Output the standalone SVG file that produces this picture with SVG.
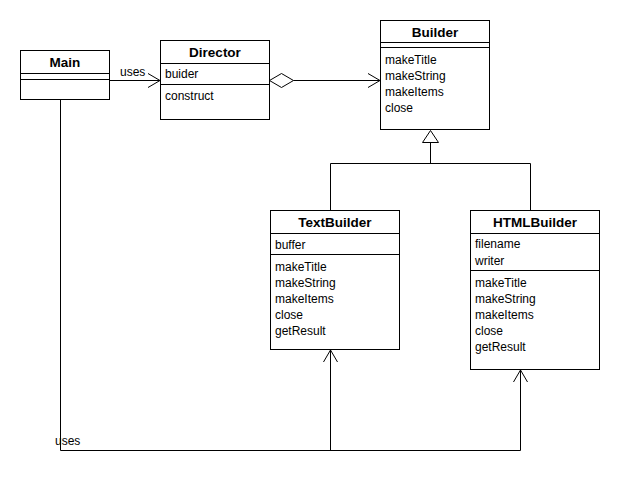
<svg xmlns="http://www.w3.org/2000/svg" width="620" height="490" viewBox="0 0 620 490">
<defs>
<style>
.box{fill:#fff;stroke:#000;stroke-width:1}
.ln{fill:none;stroke:#000;stroke-width:1}
.t{font-family:"Liberation Sans",Arial,sans-serif;font-size:12px;fill:#000}
.b{font-family:"Liberation Sans",Arial,sans-serif;font-size:13.5px;font-weight:bold;fill:#000;text-anchor:middle}
</style>
<marker id="open" markerWidth="16" markerHeight="16" refX="13" refY="8" orient="auto" markerUnits="userSpaceOnUse">
<path d="M1,1 L13,8 L1,15" fill="none" stroke="#000" stroke-width="1"/>
</marker>
</defs>
<rect width="620" height="490" fill="#fff"/>
<g id="connectors">
<line class="ln" x1="109.5" y1="80.5" x2="160" y2="80.5" marker-end="url(#open)"/>
<text class="t" x="120" y="76">uses</text>
<path class="ln" d="M269.5,80.5 L281.5,73.5 L293.5,80.5 L281.5,87.5 Z"/>
<line class="ln" x1="293.5" y1="80.5" x2="380" y2="80.5" marker-end="url(#open)"/>
<path class="ln" d="M430.5,130.5 L438.5,142.5 L422.5,142.5 Z"/>
<path class="ln" d="M430.5,142.5 V163.5 M330.5,210 V163.5 H530.5 V210"/>
<path class="ln" d="M60.5,99.5 V450.5 H520.5 V370" marker-end="url(#open)"/>
<line class="ln" x1="330.5" y1="450.5" x2="330.5" y2="350" marker-end="url(#open)"/>
<text class="t" x="55" y="445">uses</text>
</g>
<g id="Main">
<rect class="box" x="20.5" y="50.5" width="89" height="49"/>
<line class="ln" x1="20.5" y1="73.5" x2="109.5" y2="73.5"/>
<line class="ln" x1="20.5" y1="79.5" x2="109.5" y2="79.5"/>
<text class="b" x="65" y="67">Main</text>
</g>
<g id="Director">
<rect class="box" x="160.5" y="40.5" width="109" height="79"/>
<line class="ln" x1="160.5" y1="63.5" x2="269.5" y2="63.5"/>
<line class="ln" x1="160.5" y1="84.5" x2="269.5" y2="84.5"/>
<text class="b" x="215" y="57">Director</text>
<text class="t" x="165" y="78">buider</text>
<text class="t" x="165" y="100">construct</text>
</g>
<g id="Builder">
<rect class="box" x="380.5" y="20.5" width="109" height="109"/>
<line class="ln" x1="380.5" y1="42.5" x2="489.5" y2="42.5"/>
<line class="ln" x1="380.5" y1="47.5" x2="489.5" y2="47.5"/>
<text class="b" x="435" y="37">Builder</text>
<text class="t" x="385" y="64">makeTitle</text>
<text class="t" x="385" y="80">makeString</text>
<text class="t" x="385" y="96">makeItems</text>
<text class="t" x="385" y="112">close</text>
</g>
<g id="TextBuilder">
<rect class="box" x="270.5" y="210.5" width="129" height="139"/>
<line class="ln" x1="270.5" y1="233.5" x2="399.5" y2="233.5"/>
<line class="ln" x1="270.5" y1="254.5" x2="399.5" y2="254.5"/>
<text class="b" x="335" y="227">TextBuilder</text>
<text class="t" x="275" y="249">buffer</text>
<text class="t" x="275" y="271">makeTitle</text>
<text class="t" x="275" y="287">makeString</text>
<text class="t" x="275" y="303">makeItems</text>
<text class="t" x="275" y="319">close</text>
<text class="t" x="275" y="335">getResult</text>
</g>
<g id="HTMLBuilder">
<rect class="box" x="470.5" y="210.5" width="129" height="159"/>
<line class="ln" x1="470.5" y1="233.5" x2="599.5" y2="233.5"/>
<line class="ln" x1="470.5" y1="270.5" x2="599.5" y2="270.5"/>
<text class="b" x="535" y="227">HTMLBuilder</text>
<text class="t" x="475" y="248">filename</text>
<text class="t" x="475" y="265">writer</text>
<text class="t" x="475" y="287">makeTitle</text>
<text class="t" x="475" y="303">makeString</text>
<text class="t" x="475" y="319">makeItems</text>
<text class="t" x="475" y="335">close</text>
<text class="t" x="475" y="351">getResult</text>
</g>
</svg>
